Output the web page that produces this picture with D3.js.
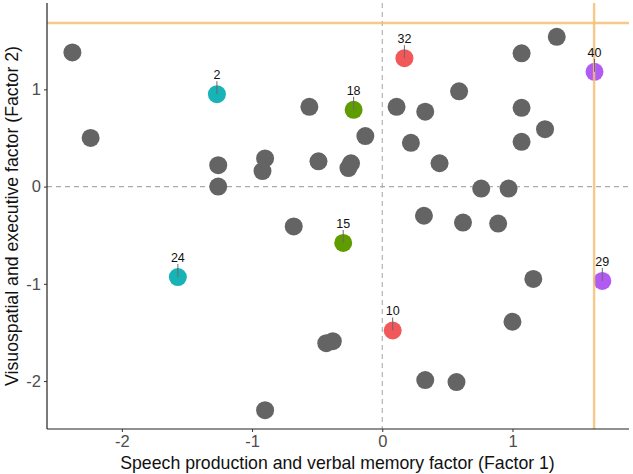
<!DOCTYPE html>
<html><head><meta charset="utf-8">
<script src="https://cdn.jsdelivr.net/npm/d3@7"></script>
<style>body{margin:0;background:#fff}svg{display:block}</style>
</head><body>
<script>
// Grey participants
const greyX = [-2.38,-2.24,-1.26,-1.26,-0.90,-0.92,-0.56,-0.49,-0.68,-0.13,-0.24,-0.26,0.11,0.33,0.59,0.22,0.44,0.76,0.97,1.07,1.34,1.07,1.25,1.07,0.32,0.62,0.89,-0.90,-0.43,-0.38,0.33,0.57,1.00,1.16];
const greyY = [1.38,0.50,0.22,0.00,0.29,0.16,0.82,0.26,-0.41,0.52,0.24,0.19,0.82,0.77,0.98,0.45,0.24,-0.02,-0.02,1.37,1.54,0.81,0.59,0.46,-0.30,-0.37,-0.38,-2.30,-1.61,-1.59,-1.99,-2.01,-1.39,-0.95];
// Labelled participants
const labIds = ["2","24","18","15","32","10","40","29"];
const labX = [-1.27,-1.57,-0.22,-0.30,0.17,0.08,1.63,1.69];
const labY = [0.95,-0.93,0.79,-0.58,1.32,-1.48,1.18,-0.97];
const labGroup = ["A","A","B","B","C","C","D","D"];
const groupColors = {A:"#17B3B7", B:"#5E9C00", C:"#F2585A", D:"#B25BF3"};
const xTicks = [-2,-1,0,1];
const yTicks = [-2,-1,0,1];
const cutX = 1.627, cutY = 1.682;
const xTitle = "Speech production and verbal memory factor (Factor 1)";
const yTitle = "Visuospatial and executive factor (Factor 2)";

const W = 633, H = 474;
const m = {l:47, r:4, t:3, b:45};
const svg = d3.select("body").append("svg").attr("width",W).attr("height",H);
const x = d3.scaleLinear().domain([-2.575,1.895]).range([m.l, W-m.r]);
const y = d3.scaleLinear().domain([-2.493,1.888]).range([H-m.b, m.t]);
const font = "'Liberation Sans', Arial, sans-serif";

// zero reference lines
svg.append("line").attr("x1",x(0)).attr("x2",x(0)).attr("y1",m.t).attr("y2",H-m.b)
  .attr("stroke","#ababab").attr("stroke-dasharray","5,4").attr("stroke-width",1.1);
svg.append("line").attr("x1",m.l).attr("x2",W-m.r).attr("y1",y(0)).attr("y2",y(0))
  .attr("stroke","#ababab").attr("stroke-dasharray","5,4").attr("stroke-width",1.1);

const grey = greyX.map((v,i)=>({x:v,y:greyY[i]}));
svg.append("g").selectAll("circle").data(grey).join("circle")
  .attr("cx",d=>x(d.x)).attr("cy",d=>y(d.y)).attr("r",9).attr("fill","#646464");

const lab = labIds.map((id,i)=>({id,x:labX[i],y:labY[i],g:labGroup[i]}));
svg.append("g").selectAll("circle").data(lab).join("circle")
  .attr("cx",d=>x(d.x)).attr("cy",d=>y(d.y)).attr("r",9).attr("fill",d=>groupColors[d.g]);

// cut-off lines
svg.append("line").attr("x1",m.l).attr("x2",W-m.r).attr("y1",y(cutY)).attr("y2",y(cutY))
  .attr("stroke","#F5BE74").attr("stroke-opacity",0.85).attr("stroke-width",2.4);
svg.append("line").attr("x1",x(cutX)).attr("x2",x(cutX)).attr("y1",m.t).attr("y2",H-m.b)
  .attr("stroke","#F5BE74").attr("stroke-opacity",0.85).attr("stroke-width",2.4);

// label segments and text
const lg = svg.append("g");
lg.selectAll("line").data(lab).join("line")
  .attr("x1",d=>x(d.x)).attr("x2",d=>x(d.x)).attr("y1",d=>y(d.y)-13).attr("y2",d=>y(d.y))
  .attr("stroke","#6a6a6a").attr("stroke-width",1);
lg.selectAll("text").data(lab).join("text")
  .attr("x",d=>x(d.x)).attr("y",d=>y(d.y)-15).attr("text-anchor","middle")
  .attr("font-family",font).attr("font-size",12.5).attr("fill","#111").text(d=>d.id);

// axes
const xa = svg.append("g").attr("transform",`translate(0,${H-m.b})`)
  .call(d3.axisBottom(x).tickValues(xTicks).tickSize(3).tickPadding(3).tickFormat(d3.format("d")));
const ya = svg.append("g").attr("transform",`translate(${m.l},0)`)
  .call(d3.axisLeft(y).tickValues(yTicks).tickSize(3).tickPadding(3).tickFormat(d3.format("d")));
[xa,ya].forEach(a=>{
  a.select(".domain").attr("stroke","#222").attr("stroke-width",1.2);
  a.selectAll(".tick line").attr("stroke","#333");
  a.selectAll(".tick text").attr("font-family",font).attr("font-size",16.5).attr("fill","#4d4d4d");
});
xa.select(".domain").attr("d",`M${m.l},0H${W-m.r}`);
ya.select(".domain").attr("d",`M0,${m.t}V${H-m.b}`);
xa.selectAll(".tick text").text(d=>d<0?"-"+Math.abs(d):d);
ya.selectAll(".tick text").text(d=>d<0?"-"+Math.abs(d):d);

svg.append("text").attr("x",337.5).attr("y",469).attr("text-anchor","middle")
  .attr("font-family",font).attr("font-size",17.7).attr("fill","#111").text(xTitle);
svg.append("text").attr("transform",`translate(18,${(m.t+H-m.b)/2}) rotate(-90)`).attr("text-anchor","middle")
  .attr("font-family",font).attr("font-size",17.7).attr("fill","#111").text(yTitle);
</script>
</body></html>
